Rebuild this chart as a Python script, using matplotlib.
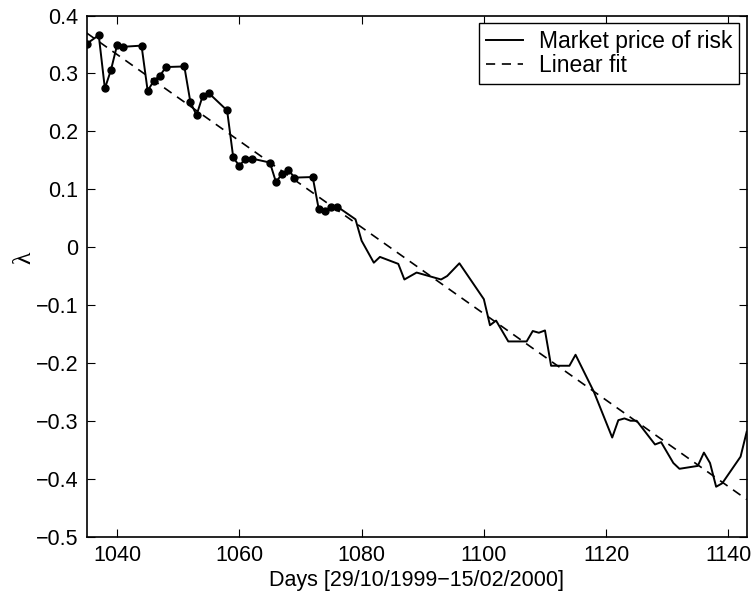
import numpy as np
import matplotlib
matplotlib.use('Agg')
import matplotlib.pyplot as plt

# market price of risk
days = [1035, 1037, 1038, 1039, 1040, 1041, 1044, 1045, 1046, 1047, 1048,
        1051, 1052, 1053, 1054, 1055, 1058, 1059, 1060, 1061, 1062, 1065,
        1066, 1067, 1068, 1069, 1072, 1073, 1074, 1075, 1076,
        1079, 1080, 1082, 1083, 1086, 1087, 1089, 1093, 1094, 1096, 1100,
        1101, 1102, 1104, 1107, 1108, 1109, 1110, 1111, 1114, 1115, 1118,
        1121, 1122, 1123, 1124, 1125, 1128, 1129, 1131, 1132, 1135, 1136,
        1137, 1138, 1139, 1142, 1143]
lam = [0.351, 0.366, 0.274, 0.306, 0.349, 0.346, 0.348, 0.270, 0.287, 0.296, 0.311,
       0.312, 0.250, 0.228, 0.261, 0.266, 0.236, 0.155, 0.140, 0.153, 0.153, 0.146,
       0.112, 0.127, 0.134, 0.120, 0.121, 0.065, 0.063, 0.069, 0.070,
       0.048, 0.011, -0.027, -0.017, -0.029, -0.056, -0.044, -0.056, -0.050, -0.028, -0.090,
       -0.135, -0.127, -0.163, -0.163, -0.145, -0.148, -0.144, -0.205, -0.205, -0.186, -0.250,
       -0.329, -0.299, -0.296, -0.300, -0.300, -0.341, -0.337, -0.373, -0.383, -0.378, -0.355,
       -0.373, -0.414, -0.408, -0.362, -0.319]
n_marked = 31  # first points drawn with dots

fit_days = [1035, 1143]
fit_vals = [0.370, -0.436]

xticks = [1040, 1060, 1080, 1100, 1120, 1140]
yticks = [0.4, 0.3, 0.2, 0.1, 0, -0.1, -0.2, -0.3, -0.4, -0.5]

fs = 15.5
plt.rcParams['font.family'] = ['Liberation Sans', 'DejaVu Sans']
plt.rcParams['font.size'] = fs

fig = plt.figure(figsize=(7.55, 5.97), dpi=100)
ax = fig.add_axes([0.1146, 0.1013, 0.8744, 0.8727])

ax.plot(days, lam, color='black', linewidth=1.4, label='Market price of risk')
ax.plot(days[:n_marked], lam[:n_marked], 'o', color='black', markersize=5, linestyle='none')
ax.plot(fit_days, fit_vals, color='black', linewidth=1.2, linestyle=(0, (5.5, 4)), label='Linear fit')

ax.set_xlim(1035, 1143)
ax.set_ylim(-0.5, 0.4)
ax.set_xticks(xticks)
ax.set_yticks(yticks)
ax.set_yticklabels([('%g' % t).replace('-', '\u2212') for t in yticks])
ax.tick_params(direction='in', top=True, right=True, length=6, width=0.8,
               labelsize=fs, pad=6)
for s in ax.spines.values():
    s.set_linewidth(1.2)

ax.set_xlabel('Days [29/10/1999\u221215/02/2000]', fontsize=fs, labelpad=3)
ax.set_ylabel('\u03bb', family='Liberation Serif', fontsize=fs + 3)
ax.yaxis.set_label_coords(-0.077, 0.535)

leg = ax.legend(loc='upper right', bbox_to_anchor=(0.9888, 0.985), borderaxespad=0,
                fancybox=False, edgecolor='black', framealpha=1, fontsize=16.5,
                handlelength=1.6, borderpad=0.3, labelspacing=0.02, handletextpad=0.7)
leg.get_frame().set_linewidth(1.0)

fig.savefig('out.png', dpi=100)
